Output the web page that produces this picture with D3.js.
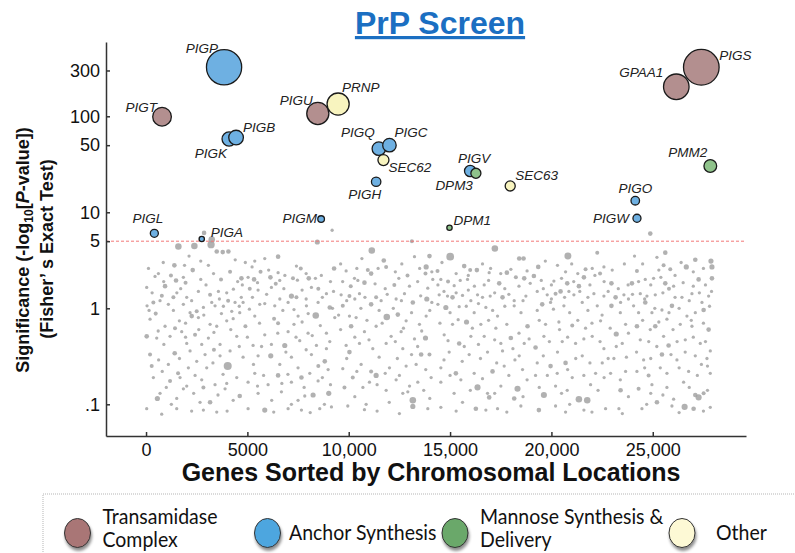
<!DOCTYPE html>
<html>
<head>
<meta charset="utf-8">
<script src="https://cdn.jsdelivr.net/npm/d3@7"></script>
<style>
    body { margin: 0; background: #fff; }
    svg { display: block; font-family: "Liberation Sans", Arial, sans-serif; }
</style>
</head>
<body>
<div id="chart"></div>
<script>
// ---- data ----
const groups = ["Transamidase Complex", "Anchor Synthesis", "Mannose Synthesis & Delivery", "Other"];
const legendLines = [["Transamidase", "Complex"], ["Anchor Synthesis"], ["Mannose Synthesis &", "Delivery"], ["Other"]];

const hitNames = ["PIGT", "PIGP", "PIGK", "PIGB", "PIGL", "PIGA", "PIGU", "PRNP", "PIGM", "PIGQ", "PIGC",
    "SEC62", "PIGH", "PIGV", "DPM3", "DPM1", "SEC63", "PIGO", "PIGW", "GPAA1", "PIGS", "PMM2"];
const hitLoc = [790, 3850, 4097, 4442, 410, 2749, 8475, 9477, 8638, 11486, 12009,
    11713, 11353, 15993, 16274, 14971, 17967, 24137, 24221, 26161, 27395, 27839];
const hitSig = [99, 324, 58, 60, 6.04, 5.27, 107, 134, 8.5, 46, 50,
    35, 20.8, 26.9, 25.5, 6.9, 18.8, 13.2, 8.66, 203, 324, 30.4];
const hitCount = [86, 306, 49, 53, 16, 7, 121, 121, 11, 45, 45,
    30, 22, 32, 25, 7, 25, 18, 16, 161, 313, 40];
const hitGroup = [0, 1, 1, 1, 1, 1, 0, 3, 1, 1, 1,
    3, 1, 1, 2, 2, 3, 1, 1, 0, 0, 2];

// all other genes: [location, significance, count]
const bgPoints = [
    [2863,6.1,4],[3243,5.2,8],[9181,6.5,2],[24877,6.0,4],[13115,5.0,3],[8450,4.9,5],
    [1596,4.4,8],[2385,4.45,8],[3208,4.6,10],[3488,3.9,4],[3784,3.85,4],[4063,3.9,4],[2122,3.5,2],[1398,2.8,4],
    [2303,2.5,4],[3076,2.8,2],[4146,2.4,3],[444,2.15,2],[1480,1.95,4],[1842,2.1,2],[33,1.65,2],[938,1.7,4],
    [1349,1.3,3],[2007,1.3,2],[2583,1.5,2],[3160,1.38,3],[3570,1.5,2],[3981,1.45,2],[4310,1.58,2],[362,1.15,3],
    [50,1.06,2],[477,0.88,3],[1102,1.1,2],[1842,1.1,2],[2500,0.93,3],[3241,1.15,2],[3817,1.05,2],[4392,1.15,2],
    [198,0.77,2],[938,0.65,2],[1645,0.74,2],[2254,0.83,4],[3160,0.68,2],[3981,0.74,2],[33,0.51,4],[527,0.49,2],
    [1185,0.51,2],[1760,0.57,2],[2418,0.53,3],[3076,0.49,2],[3652,0.42,2],[4475,0.51,2],[198,0.33,3],[1415,0.34,4],
    [2172,0.36,2],[2912,0.33,2],[3652,0.32,2],[280,0.25,3],[1102,0.26,2],[2089,0.24,2],[2994,0.24,2],[4030,0.25,12],
    [362,0.19,2],[1185,0.175,3],[2007,0.155,2],[2747,0.18,2],[3405,0.16,2],[4475,0.19,2],[691,0.13,2],[1842,0.145,2],
    [2830,0.15,3],[3899,0.145,2],[559,0.115,5],[1514,0.115,2],[2665,0.105,2],[3160,0.105,4],[33,0.09,2],[773,0.079,2],
    [1514,0.09,2],[2830,0.087,2],[3488,0.083,2],[691,1.2,2],[2172,0.9,2],[2830,1.02,2],[3405,1.06,2],[4228,0.93,2],
    [2583,0.8,2],[3488,0.65,2],[2007,0.43,2],[2747,0.42,2],[4146,0.36,2],[1678,0.19,2],[3981,0.165,2],
    [120,2.6,2],[610,2.3,2],[870,1.9,2],[1230,2.2,3],[1710,1.6,2],[1950,1.85,3],[2700,2.0,2],[2960,1.75,2],
    [3330,2.3,2],[3700,2.0,3],[4520,1.9,2],[4700,1.3,2],[300,1.45,2],[780,1.35,3],[1520,1.45,2],[2250,1.2,2],
    [3620,1.25,2],[4050,1.2,3],[4600,1.05,2],[150,0.95,2],[1350,0.95,2],[1950,0.7,2],[2850,0.85,2],[3720,0.88,2],
    [4300,0.78,2],[600,0.58,2],[1430,0.62,3],[2600,0.6,2],[3350,0.56,2],[4180,0.6,2],[880,0.42,2],[1950,0.5,2],
    [3350,0.37,3],[4600,0.4,2],[620,0.29,2],[1650,0.3,2],[2500,0.28,2],[3300,0.27,2],[800,0.22,2],[1580,0.21,3],
    [2420,0.2,2],[3800,0.205,2],[1000,0.15,2],[2350,0.13,2],[3550,0.125,2],[4300,0.11,2],[1250,0.1,2],[2250,0.085,2],
    [4000,0.085,2],[2700,3.1,2],[1900,2.8,2],[4400,3.2,2],[850,3.0,2],
    [6515,3.45,4],[5364,3.1,2],[5857,3.3,2],[5232,2.7,2],[7420,2.75,2],[7634,2.6,3],[6515,2.35,2],[9278,2.6,4],
    [4706,2.05,4],[5035,2.1,2],[5331,2.0,4],[6137,2.1,4],[6597,1.95,2],[7469,1.96,2],[8028,2.05,4],[8357,2.05,2],
    [5117,1.6,3],[5528,1.55,2],[6186,1.65,2],[7173,1.34,5],[7420,1.3,3],[8160,1.65,2],[8900,1.42,2],[4788,1.15,2],
    [5610,1.1,2],[5857,1.12,2],[6351,1.06,2],[7009,1.15,2],[7913,1.06,2],[8489,1.15,2],[9065,1.02,4],[4623,0.9,2],
    [5364,0.83,2],[6318,0.78,3],[7502,0.83,2],[8374,0.84,8],[9311,0.8,2],[4903,0.65,3],[5857,0.53,2],[6515,0.7,3],
    [7009,0.57,2],[7995,0.55,2],[8900,0.55,2],[5281,0.41,2],[6186,0.42,2],[6844,0.41,5],[7584,0.46,2],[8407,0.41,2],
    [9065,0.45,2],[4788,0.31,2],[5528,0.32,2],[6153,0.32,5],[7173,0.31,2],[8160,0.33,2],[8818,0.28,4],[5364,0.21,2],
    [6515,0.2,4],[7667,0.19,4],[8078,0.21,2],[8983,0.23,2],[5035,0.17,2],[6022,0.16,2],[7173,0.17,2],[8489,0.175,2],
    [4623,0.122,4],[5528,0.13,2],[6680,0.135,2],[7831,0.122,2],[8242,0.125,5],[9015,0.13,5],[5857,0.087,5],[5035,0.09,2],
    [7009,0.09,2],[7667,0.087,2],[8571,0.09,2],[9147,0.094,2],[7173,0.1,2],
    [4900,3.0,2],[5650,2.4,3],[6050,2.5,2],[6850,2.2,2],[7250,2.05,3],[7900,2.3,2],[8650,2.2,2],[9100,1.9,2],
    [4750,1.75,2],[5500,1.85,2],[6400,1.8,3],[6800,1.6,2],[7700,1.55,2],[8500,1.6,3],[9250,1.5,2],[5250,1.3,2],
    [5950,1.4,2],[6600,1.25,2],[7900,1.25,2],[8700,1.3,2],[5100,0.98,2],[6750,0.95,2],[7300,0.97,2],[8000,0.88,2],
    [9200,1.0,2],[5600,0.7,2],[7300,0.68,2],[7700,0.72,2],[8600,0.66,2],[5000,0.5,2],[6500,0.55,2],[7400,0.5,2],
    [8200,0.52,2],[5700,0.4,2],[6900,0.35,2],[7900,0.37,2],[8900,0.38,2],[5300,0.26,2],[6600,0.26,2],[7500,0.24,2],
    [8500,0.25,3],[5800,0.2,2],[7000,0.205,2],[8700,0.19,2],[5500,0.155,2],[6700,0.165,2],[7800,0.15,2],[9100,0.16,2],
    [6200,0.11,2],[7500,0.11,2],[8800,0.1,2],[6300,0.083,2],[8100,0.082,2],
    [11138,4.0,8],[13984,3.5,4],[13244,3.45,2],[11730,3.15,4],[11846,2.7,3],[12619,2.9,2],[10941,2.5,3],[11105,2.3,4],
    [13820,2.7,5],[13787,2.3,3],[9872,2.45,2],[10283,2.05,2],[10776,1.85,4],[12471,2.05,2],[12997,1.7,2],[14148,2.0,2],
    [9625,1.38,2],[10036,1.34,3],[10530,1.42,2],[11105,1.1,4],[11352,1.3,3],[11599,1.2,2],[12339,1.25,2],[12750,1.42,2],
    [13162,1.15,4],[13852,1.25,5],[9707,1.06,3],[10036,0.83,2],[10365,0.8,2],[11878,0.81,8],[12422,0.86,4],[12832,0.74,2],
    [13490,0.68,2],[13820,0.83,2],[10118,0.65,4],[10776,0.57,2],[11352,0.65,2],[12092,0.51,2],[12586,0.57,2],[13244,0.48,2],
    [13787,0.49,5],[9872,0.41,2],[10530,0.43,2],[11187,0.38,2],[11846,0.43,2],[12668,0.38,2],[13573,0.33,4],[13984,0.33,3],
    [10036,0.35,4],[9707,0.235,2],[10612,0.26,2],[11105,0.22,3],[11352,0.2,5],[12010,0.24,2],[12832,0.25,2],[13326,0.26,2],
    [10200,0.19,3],[11023,0.17,2],[12339,0.18,2],[13408,0.17,2],[14066,0.19,2],[9789,0.15,3],[11846,0.14,2],[12668,0.13,2],
    [12915,0.135,2],[13162,0.11,8],[13162,0.095,5],[10859,0.1,2],[9954,0.096,2],[10776,0.088,2],[13902,0.09,2],
    [9600,2.9,2],[10400,2.6,2],[10650,3.3,2],[11450,2.6,2],[12300,2.4,2],[12900,2.2,3],[13500,2.6,2],[14100,2.4,2],
    [9700,1.9,2],[10100,1.7,3],[10450,1.95,2],[11300,1.8,2],[11800,1.6,2],[12250,1.75,3],[13400,1.9,2],[13900,1.62,2],
    [9900,1.2,2],[10300,1.25,2],[10800,1.3,2],[11900,1.4,2],[12600,1.2,2],[13550,1.35,2],[14100,1.15,2],[9500,0.85,2],
    [10600,1.0,2],[11500,0.95,2],[12200,1.0,2],[13100,0.9,2],[14000,0.95,2],[9600,0.6,2],[10900,0.75,2],[11650,0.7,2],
    [12700,0.62,2],[13600,0.58,2],[10300,0.5,2],[11000,0.47,2],[12300,0.45,2],[13400,0.4,2],[9900,0.3,2],[11500,0.31,2],
    [12400,0.3,2],[13100,0.33,2],[10400,0.22,2],[11800,0.21,2],[12500,0.2,2],[13800,0.23,2],[10700,0.15,2],[11400,0.16,2],
    [13000,0.155,2],[13700,0.14,2],[10300,0.12,2],[12000,0.105,2],[14000,0.115,2],[11400,0.085,2],[12500,0.08,2],
    [17210,4.2,8],[15006,3.45,11],[18411,3.3,4],[18625,3.3,4],[14380,2.45,3],[15697,2.75,4],[15993,2.5,3],[16322,2.5,4],
    [16930,2.35,2],[17802,2.35,4],[18246,2.1,3],[18658,2.05,4],[14545,2.0,2],[15203,1.72,2],[15861,2.0,2],[16684,1.75,2],
    [17424,1.82,4],[18954,1.82,2],[14463,1.38,2],[14874,1.34,2],[15121,1.3,4],[15614,1.36,2],[16026,1.2,2],[16355,1.38,2],
    [16980,1.34,2],[17588,1.3,4],[18164,1.2,2],[18740,1.34,2],[14792,1.02,5],[15450,1.04,2],[16190,0.9,2],[16766,1.02,2],
    [17342,0.83,2],[18164,1.06,2],[15812,0.72,5],[15121,0.68,2],[16519,0.68,2],[17259,0.62,2],[18822,0.65,4],[14710,0.53,2],
    [15450,0.43,4],[16026,0.51,2],[16684,0.51,2],[17506,0.43,2],[17999,0.49,4],[18658,0.43,2],[14956,0.35,2],[15943,0.33,2],
    [16848,0.35,2],[17588,0.36,2],[18411,0.32,2],[14545,0.24,2],[15286,0.21,4],[16190,0.21,2],[17095,0.22,4],[17670,0.25,2],
    [18575,0.23,2],[14545,0.17,2],[15532,0.18,2],[16355,0.15,7],[16848,0.13,2],[17506,0.155,2],[18328,0.145,7],[16930,0.118,4],
    [18164,0.115,4],[14545,0.093,2],[15614,0.105,2],[16272,0.09,4],[16766,0.087,2],[17342,0.09,2],[18493,0.096,2],
    [14600,3.0,2],[15300,2.3,2],[15900,2.2,2],[16600,2.9,2],[17000,2.6,2],[17500,2.3,2],[18000,2.55,2],[18800,2.45,2],
    [14400,1.75,2],[14900,1.9,3],[15500,1.95,2],[16200,1.7,2],[16900,1.95,2],[17700,1.6,2],[18400,1.7,2],[14700,1.5,2],
    [15300,1.45,2],[15900,1.55,2],[16600,1.3,2],[17200,1.45,2],[17900,1.4,2],[18600,1.2,2],[14400,1.1,2],[15000,0.9,2],
    [15800,1.05,2],[16400,1.12,2],[17100,0.95,2],[17700,1.05,2],[18500,0.9,2],[14500,0.7,2],[15400,0.76,2],[16100,0.62,2],
    [16900,0.75,2],[17800,0.68,2],[18400,0.55,2],[14900,0.46,2],[15700,0.4,2],[16400,0.42,2],[17200,0.47,2],[18100,0.38,2],
    [18900,0.48,2],[14700,0.29,2],[15600,0.28,2],[16500,0.3,2],[17300,0.27,2],[18200,0.29,2],[15000,0.2,2],[16600,0.185,2],
    [17900,0.2,2],[18800,0.18,2],[15200,0.13,2],[16000,0.14,2],[17200,0.13,2],[18600,0.12,2],[15300,0.085,2],[17800,0.083,2],
    [20813,3.5,9],[22261,3.8,3],[19349,2.7,4],[19135,2.17,4],[20698,2.4,2],[21685,2.55,3],[22590,2.7,2],[22014,2.6,2],
    [20122,1.92,2],[20780,1.82,4],[21356,1.7,4],[21603,2.1,4],[22146,2.2,2],[22961,1.82,4],[23784,1.75,2],[19300,1.5,2],
    [19793,1.38,2],[20205,1.42,3],[20451,1.5,4],[20863,1.5,2],[21109,1.38,2],[22096,1.42,2],[22590,1.34,2],[23166,1.3,4],
    [23577,1.38,2],[19546,1.1,4],[19958,1.15,2],[20616,1.06,2],[21521,1.15,2],[22261,1.06,2],[22961,1.06,4],[23412,1.15,2],
    [19711,0.68,2],[20369,0.72,2],[21027,0.66,3],[21685,0.62,2],[22425,0.74,2],[23198,0.54,5],[23659,0.68,2],[19217,0.39,4],
    [19629,0.51,2],[20534,0.45,2],[21192,0.43,2],[22014,0.51,2],[22590,0.38,2],[23495,0.43,2],[19300,0.27,2],[19958,0.25,4],
    [20698,0.27,4],[21521,0.32,2],[22508,0.27,2],[23083,0.3,2],[19217,0.2,2],[20287,0.21,2],[21027,0.19,2],[22179,0.21,2],
    [22919,0.21,2],[23659,0.22,2],[19629,0.125,7],[20205,0.155,2],[20780,0.14,2],[21932,0.16,2],[23412,0.14,4],[21356,0.113,8],
    [21767,0.11,8],[19382,0.087,4],[20205,0.096,2],[20698,0.083,2],[21603,0.087,2],[22672,0.09,2],[23330,0.09,2],
    [19700,3.1,2],[20300,2.8,2],[21000,2.9,2],[21300,2.3,2],[22400,2.3,3],[23000,2.5,2],[23600,2.9,2],[19500,1.95,2],
    [20000,1.75,2],[20500,2.05,2],[21100,1.9,2],[21900,1.75,2],[22600,1.9,2],[23300,1.6,2],[19600,1.6,2],[20000,1.25,2],
    [20650,1.3,2],[21400,1.5,2],[21800,1.3,2],[22800,1.5,2],[23800,1.25,2],[19300,0.95,2],[20100,0.98,2],[20900,0.9,2],
    [21800,0.95,2],[22500,0.85,2],[23400,0.9,2],[19400,0.75,2],[20400,0.6,2],[21300,0.75,2],[22000,0.7,2],[22900,0.62,2],
    [23800,0.55,2],[19900,0.45,2],[20800,0.5,2],[21600,0.48,2],[22400,0.45,2],[23200,0.4,2],[19600,0.32,2],[20300,0.35,2],
    [21200,0.3,2],[21900,0.27,2],[22800,0.3,2],[23700,0.31,2],[19800,0.2,2],[20800,0.23,2],[21600,0.2,2],[22600,0.19,2],
    [23400,0.18,2],[19400,0.15,2],[20500,0.13,2],[22300,0.14,2],[23800,0.12,2],[20900,0.1,2],[22000,0.083,2],[23500,0.08,2],
    [25617,3.8,4],[27098,3.2,4],[27871,3.1,5],[27920,2.7,5],[25206,3.4,2],[25535,2.8,3],[25864,2.55,3],[26654,2.7,5],
    [24219,2.45,3],[23972,1.82,4],[24630,2.0,2],[25042,2.05,2],[25617,1.82,4],[26029,1.7,2],[27262,2.0,4],[27920,2.05,4],
    [24384,1.42,2],[24713,1.34,2],[25124,1.38,2],[25946,1.06,4],[26440,1.3,2],[26933,1.42,2],[27427,1.15,2],[27756,1.34,2],
    [24054,1.06,2],[24630,1.15,4],[24959,0.9,2],[25453,0.96,2],[26686,0.83,2],[27509,0.96,4],[24219,0.65,4],[24877,0.6,2],
    [25124,0.65,4],[25699,0.77,2],[26358,0.68,2],[26933,0.65,2],[27756,0.6,4],[24384,0.47,2],[25535,0.51,2],[25782,0.41,4],
    [26604,0.47,2],[27344,0.43,2],[27838,0.36,2],[24548,0.29,2],[25453,0.33,4],[26193,0.29,2],[27098,0.32,2],[27674,0.3,2],
    [24219,0.22,2],[24795,0.2,3],[25371,0.24,2],[26769,0.22,2],[27838,0.21,2],[24301,0.145,3],[24959,0.16,2],[25699,0.15,2],
    [26522,0.17,2],[27262,0.118,7],[27098,0.125,4],[27509,0.13,3],[25206,0.105,4],[26029,0.113,2],[26571,0.094,7],[27015,0.09,4],
    [27838,0.093,2],[24466,0.09,2],[25946,0.096,2],
    [24500,2.9,2],[24100,3.5,2],[25300,2.5,2],[26100,2.2,2],[26400,3.0,2],[27000,2.4,2],[27500,2.6,2],[24300,1.9,2],
    [24900,1.75,2],[25400,2.1,2],[25800,1.6,3],[26500,1.85,2],[27000,1.7,2],[27600,1.75,2],[24000,1.4,2],[24600,1.25,2],
    [25500,1.45,2],[26100,1.3,2],[26800,1.2,2],[27300,1.45,2],[27900,1.5,2],[24300,0.9,2],[25100,1.0,2],[25800,0.9,2],
    [26300,1.0,2],[27100,0.9,2],[27800,1.05,2],[24500,0.75,2],[25300,0.72,2],[26000,0.6,2],[26900,0.75,2],[27500,0.7,2],
    [24800,0.45,2],[25200,0.4,2],[26200,0.45,2],[27000,0.5,2],[27600,0.45,2],[24200,0.35,2],[24900,0.3,2],[25900,0.33,2],
    [26600,0.35,2],[27400,0.26,2],[24600,0.24,2],[25700,0.21,2],[26300,0.24,2],[27200,0.2,2],[27700,0.25,2],[24900,0.13,2],
    [25500,0.125,2],[26800,0.15,2],[27700,0.14,2],[24700,0.1,2],[26300,0.082,2],[27500,0.085,2]
];

const xTicks = [0, 5000, 10000, 15000, 20000, 25000];
const xTickLabels = ["0", "5000", "10,000", "15,000", "20,000", "25,000"];
const yTicks = [300, 100, 50, 10, 5, 1, 0.1];
const yTickLabels = ["300", "100", "50", "10", "5", "1", ".1"];
const threshold = 5;

// ---- layout / style ----
const width = 795, height = 553;
const margin = {top: 42, right: 49, bottom: 117, left: 106};
const dotColors = ["#b38f8f", "#6eb0e2", "#8fc38b", "#f8f4bf"];
const legendColors = ["#a97676", "#4ea6df", "#6aa86b", "#fdf9d5"];

// label placement relative to each circle: [dx, dy, anchor]
const labelPos = {
    PIGT: [-5, -5, "end"], PIGP: [-6, -14, "end"], PIGK: [-2, 19, "end"], PIGB: [7, -5.5, "start"],
    PIGL: [9, -10.5, "end"], PIGA: [9, -2, "start"], PIGU: [-5, -8, "end"], PRNP: [4, -12, "start"],
    PIGM: [-4, 4, "end"], PIGQ: [-4, -12, "end"], PIGC: [5, -8, "start"], SEC62: [5, 11.5, "start"],
    PIGH: [5, 17, "end"], PIGV: [4, -8, "middle"], DPM3: [-3, 16.5, "end"], DPM1: [4, -3, "start"],
    SEC63: [5, -6, "start"], PIGO: [0, -8, "middle"], PIGW: [-8, 5, "end"], GPAA1: [-13, -10, "end"],
    PIGS: [18, -7, "start"], PMM2: [-3, -8.5, "end"]
};

const svg = d3.select("#chart").append("svg")
    .attr("width", width)
    .attr("height", height);

const x = d3.scaleLinear()
    .domain([-1975, 29600])
    .range([margin.left, width - margin.right]);

const y = d3.scaleLog()
    .domain([0.04675, 594])
    .range([height - margin.bottom, margin.top]);

const r = d3.scaleSqrt()
    .domain([0, 320])
    .range([0, 18]);

const color = d3.scaleOrdinal().domain(d3.range(groups.length)).range(dotColors);

// title
svg.append("text")
    .attr("x", 440)
    .attr("y", 34)
    .attr("text-anchor", "middle")
    .attr("font-size", 32)
    .attr("font-weight", "bold")
    .attr("fill", "#1b6fc2")
    .attr("text-decoration", "underline")
    .text("PrP Screen");

// background genes
svg.append("g")
    .selectAll("circle")
    .data(bgPoints)
    .join("circle")
    .attr("cx", d => x(d[0]))
    .attr("cy", d => y(d[1]))
    .attr("r", d => r(d[2]) * 1.15)
    .attr("fill", "#a3a3a3")
    .attr("fill-opacity", 0.85);

// significance threshold
svg.append("line")
    .attr("x1", x.range()[0])
    .attr("x2", x.range()[1])
    .attr("y1", y(threshold))
    .attr("y2", y(threshold))
    .attr("stroke", "#f27878")
    .attr("stroke-width", 1)
    .attr("stroke-dasharray", "3,2");

// axes
const xAxis = d3.axisBottom(x)
    .tickValues(xTicks)
    .tickFormat((d, i) => xTickLabels[i])
    .tickSize(-4)
    .tickSizeOuter(0)
    .tickPadding(7);

const yAxis = d3.axisLeft(y)
    .tickValues(yTicks)
    .tickFormat((d, i) => yTickLabels[i])
    .tickSize(-4)
    .tickSizeOuter(0)
    .tickPadding(6);

const xAxisGroup = svg.append("g")
    .attr("transform", `translate(0, ${height - margin.bottom})`)
    .call(xAxis);

const yAxisGroup = svg.append("g")
    .attr("transform", `translate(${margin.left}, 0)`)
    .call(yAxis);

[xAxisGroup, yAxisGroup].forEach(g => {
    g.selectAll("path, line").attr("stroke", "#333").attr("stroke-width", 1.5);
    g.selectAll("text").attr("font-size", 18).attr("fill", "#111")
        .attr("font-family", "'Liberation Sans', Arial, sans-serif");
});

// axis titles
svg.append("text")
    .attr("x", 431)
    .attr("y", 481)
    .attr("text-anchor", "middle")
    .attr("font-size", 25)
    .attr("font-weight", "bold")
    .attr("fill", "#111")
    .text("Genes Sorted by Chromosomal Locations");

const yTitle = svg.append("text")
    .attr("transform", "translate(29, 250) rotate(-90)")
    .attr("text-anchor", "middle")
    .attr("font-size", 18)
    .attr("font-weight", "bold")
    .attr("fill", "#111");
yTitle.append("tspan").text("Significance (-log");
yTitle.append("tspan").attr("font-size", 12).attr("dy", 4).text("10");
yTitle.append("tspan").attr("dy", -4).text("[");
yTitle.append("tspan").attr("font-style", "italic").text("P");
yTitle.append("tspan").text("-value])");

svg.append("text")
    .attr("transform", "translate(53, 249) rotate(-90)")
    .attr("text-anchor", "middle")
    .attr("font-size", 18)
    .attr("font-weight", "bold")
    .attr("fill", "#111")
    .text("(Fisher\u2019 s Exact Test)");

// hit genes
const hits = hitNames.map((name, i) => ({
    name: name, loc: hitLoc[i], sig: hitSig[i], count: hitCount[i], group: hitGroup[i]
}));

svg.append("g")
    .selectAll("circle")
    .data(hits)
    .join("circle")
    .attr("cx", d => x(d.loc))
    .attr("cy", d => y(d.sig))
    .attr("r", d => r(d.count))
    .attr("fill", d => color(d.group))
    .attr("stroke", "#1a1a1a")
    .attr("stroke-width", 1.3);

svg.append("g")
    .selectAll("text")
    .data(hits)
    .join("text")
    .attr("x", d => x(d.loc) + labelPos[d.name][0])
    .attr("y", d => y(d.sig) + labelPos[d.name][1])
    .attr("text-anchor", d => labelPos[d.name][2])
    .attr("font-size", 13.5)
    .attr("font-style", "italic")
    .attr("fill", "#222")
    .text(d => d.name);

// legend
const defs = svg.append("defs");
const shadow = defs.append("filter").attr("id", "shadow")
    .attr("x", "-50%").attr("y", "-50%").attr("width", "200%").attr("height", "200%");
shadow.append("feDropShadow")
    .attr("dx", 1).attr("dy", 3).attr("stdDeviation", 1.5)
    .attr("flood-color", "#000").attr("flood-opacity", 0.45);

svg.append("rect")
    .attr("x", 43)
    .attr("y", 494)
    .attr("width", 800)
    .attr("height", 100)
    .attr("fill", "none")
    .attr("stroke", "#b5b5b5")
    .attr("stroke-dasharray", "1,1");

const legendX = [77.5, 267.5, 455, 682];
const legendTextX = [102.5, 289, 480, 716];

const legend = svg.append("g")
    .selectAll("g")
    .data(groups)
    .join("g");

legend.append("ellipse")
    .attr("cx", (d, i) => legendX[i])
    .attr("cy", 533)
    .attr("rx", 13)
    .attr("ry", 14.5)
    .attr("fill", (d, i) => legendColors[i])
    .attr("stroke", "#333")
    .attr("stroke-width", 1)
    .attr("filter", "url(#shadow)");

legend.each(function(d, i) {
    const lines = legendLines[i];
    const base = lines.length === 1 ? [540] : [524, 547];
    lines.forEach((line, j) => {
        d3.select(this).append("text")
            .attr("transform", `translate(${legendTextX[i]}, ${base[j]}) scale(1, 1.1)`)
            .attr("font-family", "Lato, 'Open Sans', sans-serif")
            .attr("font-size", 19.5)
            .attr("fill", "#111")
            .text(line);
    });
});
</script>
</body>
</html>
